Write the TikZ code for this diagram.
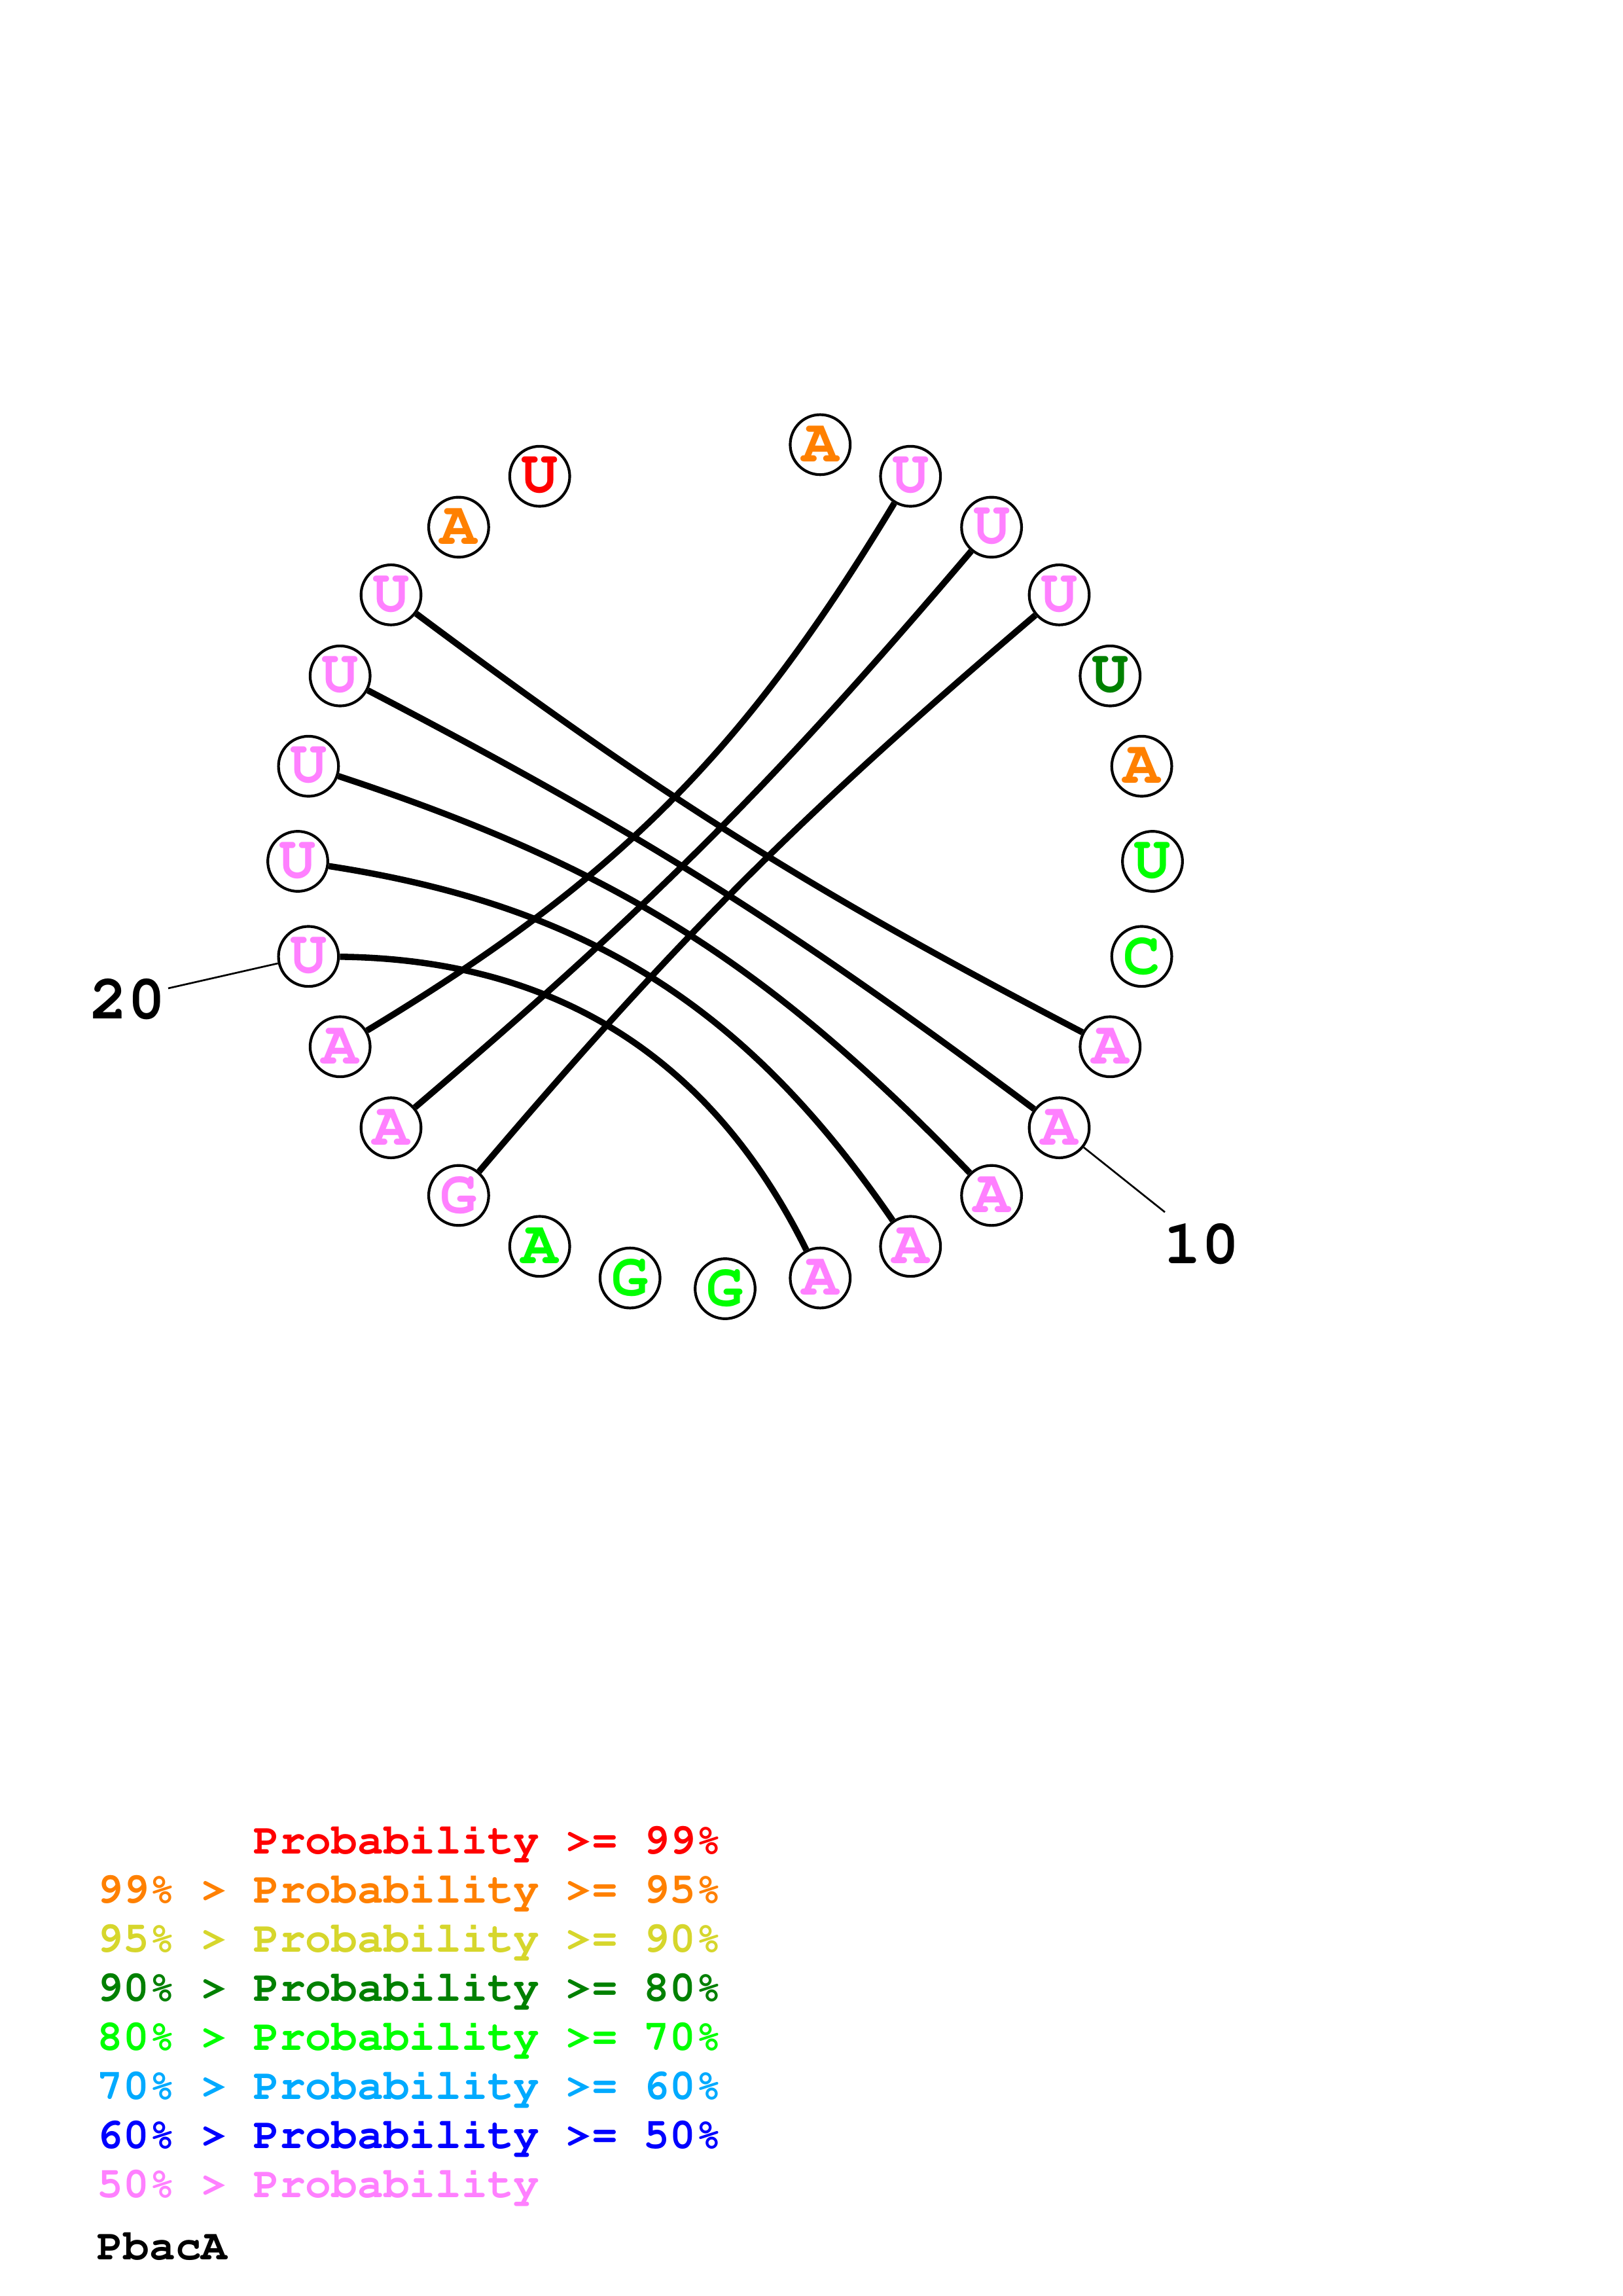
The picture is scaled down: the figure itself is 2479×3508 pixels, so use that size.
\documentclass[tikz,border=0pt]{standalone}
\usepackage[T1,TU]{fontenc}
\newcommand{\crbold}{\fontencoding{T1}\fontfamily{pcr}\fontseries{b}\selectfont}
\definecolor{cred}{RGB}{255,0,0}
\definecolor{corg}{RGB}{255,128,0}
\definecolor{cyel}{RGB}{214,214,44}
\definecolor{cdkg}{RGB}{0,128,0}
\definecolor{cgrn}{RGB}{0,255,0}
\definecolor{cltb}{RGB}{0,170,255}
\definecolor{cblu}{RGB}{0,0,255}
\definecolor{cpnk}{RGB}{255,128,255}
\tikzset{
  nt/.style={circle,draw=black,line width=1pt,minimum size=22pt,inner sep=0pt,
    font=\crbold\fontsize{22.5}{22.5}\selectfont},
  pairline/.style={line width=2.3pt,black},
  tickline/.style={line width=0.65pt,black},
  numlab/.style={font=\crbold\fontsize{23}{23}\selectfont,inner sep=0pt},
  legend/.style={anchor=base west,inner sep=0pt,font=\crbold\fontsize{15.9}{15.9}\selectfont}
}
\begin{document}
\begin{tikzpicture}[x=0.24pt,y=0.24pt]
\path[use as bounding box,fill=white] (0,0) rectangle (2479,-3508);
\foreach \i/\b/\c in {1/A/corg,2/U/cpnk,3/U/cpnk,4/U/cpnk,5/U/cdkg,6/A/corg,7/U/cgrn,8/C/cgrn,
  9/A/cpnk,10/A/cpnk,11/A/cpnk,12/A/cpnk,13/A/cpnk,14/G/cgrn,15/G/cgrn,16/A/cgrn,17/G/cpnk,
  18/A/cpnk,19/A/cpnk,20/U/cpnk,21/U/cpnk,22/U/cpnk,23/U/cpnk,24/U/cpnk,25/A/corg,26/U/cred}{
  \pgfmathsetmacro\ang{90-\i*360/28}
  \node[nt,text=\c] (n\i) at ([shift={(\ang:653)}]1108,-1316) {\b};
}
\draw[pairline] (n2) to[bend left=13.9] (n19);
\draw[pairline] (n3) to[bend left=4.6] (n18);
\draw[pairline] (n4) to[bend right=4.6] (n17);
\draw[pairline] (n9) to[bend left=4.6] (n24);
\draw[pairline] (n10) to[bend right=4.6] (n23);
\draw[pairline] (n11) to[bend right=13.9] (n22);
\draw[pairline] (n12) to[bend right=23.4] (n21);
\draw[pairline] (n13) to[bend right=31.5] (n20);
\coordinate (t20) at (257,-1510);
\coordinate (t10) at (1780,-1852);
\draw[tickline] (n20) -- (t20);
\draw[tickline] (n10) -- (t10);
\node[numlab] (lab20) at (195,-1527) {20};
\node[numlab] (lab10) at (1836,-1901) {10};
\node[legend,text=cred] (lg1) at (148,-2832) {\hphantom{99\% > }Probability >= 99\%};
\node[legend,text=corg] (lg2) at (148,-2907) {99\% > Probability >= 95\%};
\node[legend,text=cyel] (lg3) at (148,-2982) {95\% > Probability >= 90\%};
\node[legend,text=cdkg] (lg4) at (148,-3057) {90\% > Probability >= 80\%};
\node[legend,text=cgrn] (lg5) at (148,-3132) {80\% > Probability >= 70\%};
\node[legend,text=cltb] (lg6) at (148,-3207) {70\% > Probability >= 60\%};
\node[legend,text=cblu] (lg7) at (148,-3282) {60\% > Probability >= 50\%};
\node[legend,text=cpnk] (lg8) at (148,-3357) {50\% > Probability};
\node[legend,text=black] (title) at (148,-3452) {PbacA};
\end{tikzpicture}
\end{document}
